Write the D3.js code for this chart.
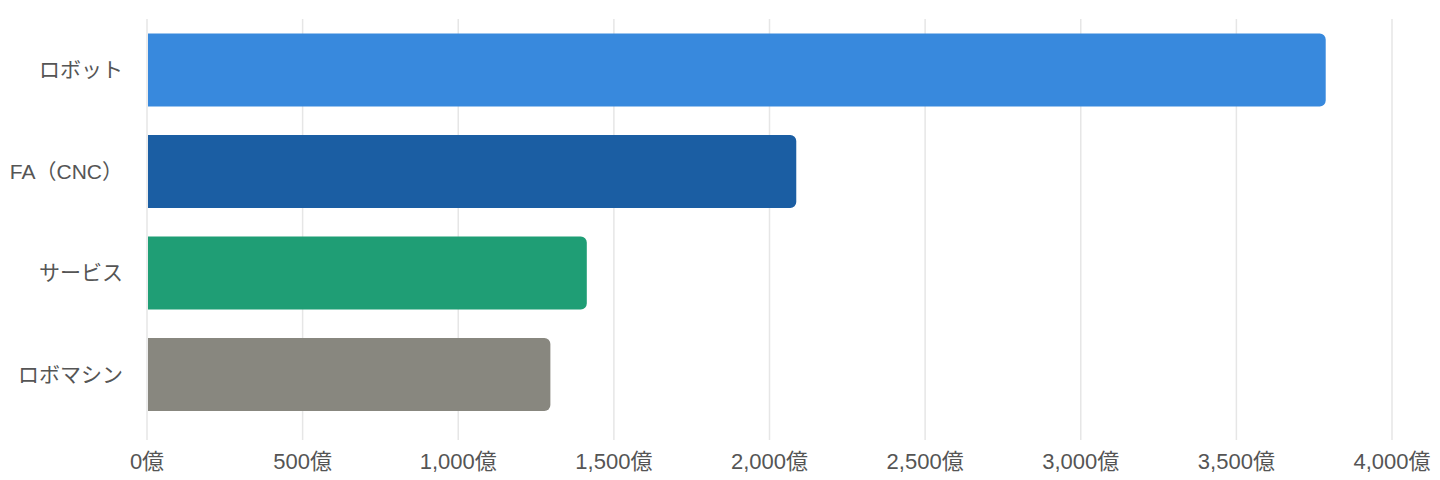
<!DOCTYPE html>
<html>
<head>
<meta charset="utf-8">
<script src="https://cdn.jsdelivr.net/npm/d3@7"></script>
<style>
  body { margin: 0; background: #fff; }
  svg { display: block; font-family: "Liberation Sans", "Noto Sans CJK JP", sans-serif; }
</style>
</head>
<body>
<div id="chart"></div>
<script>
// data
const categories = ['ロボット', 'FA（CNC）', 'サービス', 'ロボマシン'];
const values = [3787, 2086, 1413, 1296];
const colors = ['#3889dd', '#1b5ea3', '#1f9e75', '#88877f'];
const ticks = [0, 500, 1000, 1500, 2000, 2500, 3000, 3500, 4000];

const W = 1440, H = 480;
const svg = d3.select('#chart').append('svg')
    .attr('width', W)
    .attr('height', H);

const x = d3.scaleLinear().domain([0, 4000]).range([147, 1392]);
const y = d3.scaleBand().domain(categories).range([19.25, 425.25])
    .paddingInner(0.28).paddingOuter(0.14);

// vertical grid
svg.append('g').selectAll('line')
    .data(ticks)
    .join('line')
    .attr('x1', d => x(d)).attr('x2', d => x(d))
    .attr('y1', 19).attr('y2', 440)
    .attr('stroke', '#e6e6e6')
    .attr('stroke-width', 1.5);

// bar with rounded right end only
const barPath = (x0, x1, y0, h, r) => {
    const p = d3.path();
    p.moveTo(x0, y0);
    p.lineTo(x1 - r, y0);
    p.arcTo(x1, y0, x1, y0 + r, r);
    p.lineTo(x1, y0 + h - r);
    p.arcTo(x1, y0 + h, x1 - r, y0 + h, r);
    p.lineTo(x0, y0 + h);
    p.closePath();
    return p.toString();
};

svg.append('g').selectAll('path')
    .data(categories)
    .join('path')
    .attr('d', (c, i) => barPath(x(0) + 1, x(values[i]), y(c), y.bandwidth(), 6))
    .attr('fill', (c, i) => colors[i]);

// category labels
svg.append('g').selectAll('text')
    .data(categories)
    .join('text')
    .attr('x', 123)
    .attr('y', c => y(c) + y.bandwidth() / 2)
    .attr('dy', '0.35em')
    .attr('text-anchor', 'end')
    .attr('font-size', 21)
    .attr('fill', '#555')
    .text(c => c);

// x tick labels
svg.append('g').selectAll('text')
    .data(ticks)
    .join('text')
    .attr('x', d => x(d))
    .attr('y', 461)
    .attr('dy', '0.35em')
    .attr('text-anchor', 'middle')
    .attr('font-size', 22)
    .attr('fill', '#555')
    .text(d => d3.format(',')(d) + '億');
</script>
</body>
</html>
